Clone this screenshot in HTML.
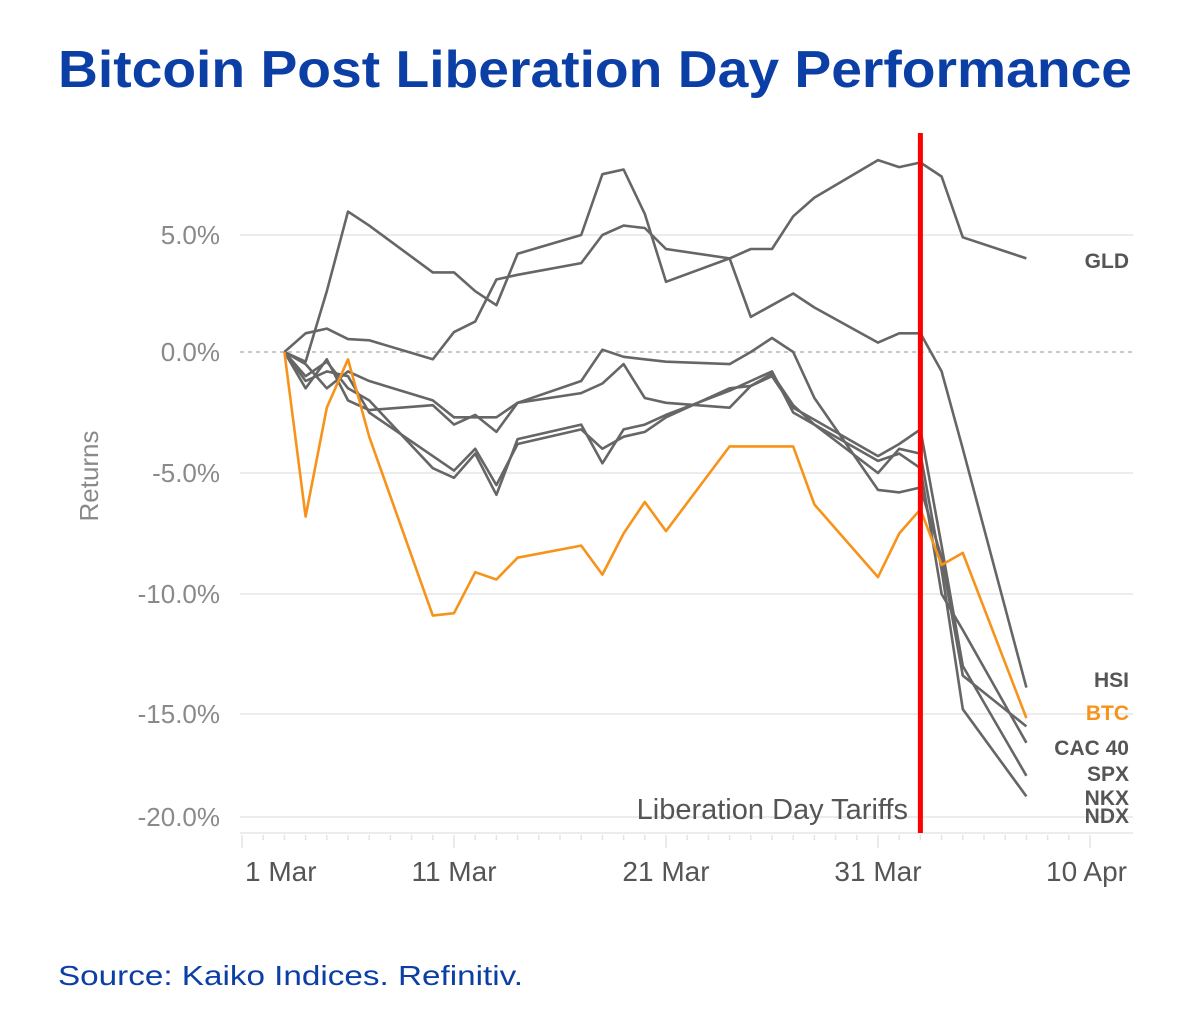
<!DOCTYPE html>
<html><head><meta charset="utf-8"><style>
html,body{margin:0;padding:0;background:#fff;}
svg{display:block;font-family:"Liberation Sans",sans-serif;}
</style></head><body>
<svg id="chart" width="1190" height="1036" viewBox="0 0 1190 1036">
<text x="58" y="87" font-size="52" font-weight="bold" fill="#0b3fa6" textLength="1074" lengthAdjust="spacingAndGlyphs">Bitcoin Post Liberation Day Performance</text>
<text x="58" y="985" font-size="28" fill="#0b3fa6" textLength="465" lengthAdjust="spacingAndGlyphs">Source: Kaiko Indices. Refinitiv.</text>
<text transform="translate(98,476) rotate(-90)" text-anchor="middle" font-size="26" fill="#8a8a8a">Returns</text>
<g id="grid"></g><g id="series"></g><g id="overlay"></g>
</svg>
<script>
const days = [3,4,5,6,7,10,11,12,13,14,17,18,19,20,21,24,25,26,27,28,31,32,33,34,35,38];
const gld = [0,-0.4,2.6,6.0,5.4,3.4,3.4,2.6,2.0,4.2,5.0,7.6,7.8,5.9,3.0,4.0,4.4,4.4,5.8,6.6,8.2,7.9,8.1,7.5,4.9,4.0];
const hsi = [0,0.8,1.0,0.55,0.5,-0.3,0.85,1.3,3.1,3.3,3.8,5.0,5.4,5.3,4.4,4.0,1.5,2.0,2.5,1.9,0.4,0.8,0.8,-0.8,-4.0,-13.9];
const cac = [0,-0.5,-1.5,-0.8,-1.2,-2.0,-2.7,-2.7,-2.7,-2.1,-1.2,0.1,-0.2,-0.3,-0.4,-0.5,0.0,0.6,0.0,-1.9,-5.7,-5.8,-5.6,-8.5,-13.4,-15.6];
const spx = [0,-1.5,-0.3,-2.0,-2.4,-2.2,-3.0,-2.6,-3.3,-2.1,-1.7,-1.3,-0.5,-1.9,-2.1,-2.3,-1.4,-0.9,-2.2,-3.0,-4.5,-4.2,-4.8,-10.0,-11.5,-16.4];
const nkx = [0,-1.2,-0.8,-1.0,-2.5,-4.3,-4.9,-4.0,-5.5,-3.8,-3.2,-4.0,-3.5,-3.3,-2.7,-1.5,-1.4,-1.0,-2.3,-2.8,-4.3,-3.8,-3.2,-8.0,-13.0,-18.0];
const ndx = [0,-1.0,-0.4,-1.5,-2.0,-4.8,-5.2,-4.2,-5.9,-3.6,-3.0,-4.6,-3.2,-3.0,-2.6,-1.6,-1.2,-0.8,-2.5,-3.0,-5.0,-4.0,-4.2,-9.0,-14.8,-19.0];
const btc = [0,-6.8,-2.3,-0.3,-3.5,-10.9,-10.8,-9.1,-9.4,-8.5,-8.0,-9.2,-7.5,-6.2,-7.4,-3.9,-3.9,-3.9,-3.9,-6.3,-9.3,-7.5,-6.5,-8.8,-8.3,-15.2];
const yTicks = [5,0,-5,-10,-15,-20];
const yTickLabels = ["5.0%","0.0%","-5.0%","-10.0%","-15.0%","-20.0%"];
const xTicks = [1,11,21,31,41];
const xTickLabels = ["1 Mar","11 Mar","21 Mar","31 Mar","10 Apr"];
const eventDay = 33;

const NS="http://www.w3.org/2000/svg";
const yDom=[-20,-15,-10,-5,0,5], yRng=[817,714,594,473,352,235];
function y(v){
  if(v<=yDom[0]) return yRng[0]+(v-yDom[0])*(yRng[1]-yRng[0])/5;
  for(let i=0;i<yDom.length-1;i++){ if(v<=yDom[i+1]) return yRng[i]+(v-yDom[i])/(yDom[i+1]-yDom[i])*(yRng[i+1]-yRng[i]); }
  return yRng[5]+(v-5)*(yRng[5]-yRng[4])/5;
}
function x(d){ return 242+21.2*(d-1); }
function mk(tag,attrs,parent){const e=document.createElementNS(NS,tag);for(const k in attrs)e.setAttribute(k,attrs[k]);parent.appendChild(e);return e;}
const grid=document.getElementById('grid'), ser=document.getElementById('series'), ov=document.getElementById('overlay');

yTicks.forEach((t,i)=>{
  if(t!==0){const g=mk('line',{x1:240,x2:1133,y1:y(t),y2:y(t),stroke:'#ececec','stroke-width':2},grid);
  
  }
  const l=mk('text',{x:220,y:y(t)+9,'text-anchor':'end','font-size':26,fill:'#8a8a8a'},grid);
  l.textContent=yTickLabels[i];
  
  
});
const z=mk('line',{x1:240,x2:1133,y1:y(0),y2:y(0),stroke:'#b5b5b5','stroke-width':1.5,'stroke-dasharray':'4,4'},grid);


const ax=mk('line',{x1:240,x2:1133,y1:833,y2:833,stroke:'#ececec','stroke-width':2},grid);


for(let d=1; d<=41; d++){
  const major=xTicks.includes(d);
  const tk=mk('line',{x1:x(d),x2:x(d),y1:835,y2:major?848:840,stroke:'#e4e4e4','stroke-width':1.5},grid);
  
  
}
xTicks.forEach((d,i)=>{
  const last=i===xTicks.length-1, first=i===0;
  const l=mk('text',{x:first?x(d)+3:(last?1127:x(d)),y:881,'text-anchor':first?'start':(last?'end':'middle'),'font-size':28,fill:'#555'},grid);
  l.textContent=xTickLabels[i];
  
  
});

function path(vals){return vals.map((v,i)=>(i?'L':'M')+x(days[i]).toFixed(1)+','+y(v).toFixed(1)).join(' ');}
const grays=[['gld',gld],['hsi',hsi],['cac-40',cac],['spx',spx],['nkx',nkx],['ndx',ndx]];
grays.forEach(([n,vals])=>{
  const p=mk('path',{d:path(vals),fill:'none',stroke:'#666','stroke-width':2.6,'stroke-linejoin':'round'},ser);
  
  
});
const bp=mk('path',{d:path(btc),fill:'none',stroke:'#f7931a','stroke-width':2.6,'stroke-linejoin':'round'},ser);



const rl=mk('line',{x1:x(eventDay),x2:x(eventDay),y1:133,y2:833,stroke:'#ff0000','stroke-width':5},ov);


const an=mk('text',{x:908,y:819,'text-anchor':'end','font-size':29,fill:'#555'},ov);
an.textContent='Liberation Day Tariffs';



const labels=[['GLD',268,'#555'],['HSI',687,'#555'],['BTC',720,'#f7931a'],['CAC 40',755,'#555'],['SPX',781,'#555'],['NKX',805,'#555'],['NDX',823,'#555']];
labels.forEach(([t,yy,c])=>{
  const l=mk('text',{x:1129,y:yy,'text-anchor':'end','font-size':21,'font-weight':'bold',fill:c},ov);
  l.textContent=t;
  
  
});
</script>
</body></html>
